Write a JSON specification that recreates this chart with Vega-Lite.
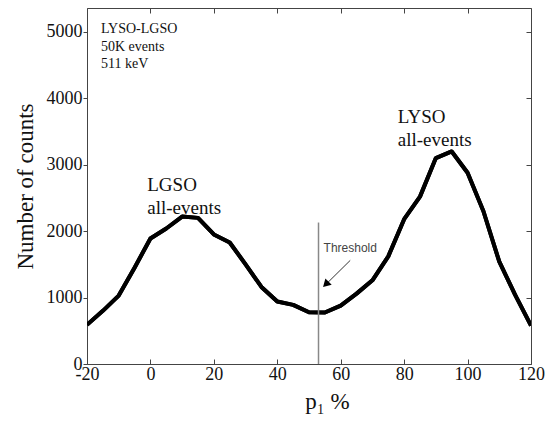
{
  "$schema": "https://vega.github.io/schema/vega-lite/v6.json",
  "width": 444,
  "height": 356,
  "autosize": "none",
  "padding": {"left": 87, "top": 8, "right": 18, "bottom": 57},
  "background": "white",
  "config": {
    "view": {"stroke": null},
    "axis": {
      "domainColor": "#444", "tickColor": "#444", "grid": false, "labelFlush": false,
      "labelFont": "Liberation Serif", "labelFontSize": 18, "labelColor": "#111",
      "titleFont": "Liberation Serif", "titleFontSize": 23, "titleFontWeight": "normal", "titleColor": "#111"
    }
  },
  "datasets": {
    "curve": [
      {"p": -20, "n": 590}, {"p": -15, "n": 800}, {"p": -10, "n": 1030}, {"p": -5, "n": 1450},
      {"p": 0, "n": 1890}, {"p": 5, "n": 2040}, {"p": 10, "n": 2220}, {"p": 15, "n": 2200},
      {"p": 20, "n": 1950}, {"p": 25, "n": 1830}, {"p": 30, "n": 1500}, {"p": 35, "n": 1160},
      {"p": 40, "n": 940}, {"p": 45, "n": 890}, {"p": 50, "n": 780}, {"p": 55, "n": 775},
      {"p": 60, "n": 880}, {"p": 65, "n": 1060}, {"p": 70, "n": 1260}, {"p": 75, "n": 1620},
      {"p": 80, "n": 2180}, {"p": 85, "n": 2520}, {"p": 90, "n": 3100}, {"p": 95, "n": 3200},
      {"p": 100, "n": 2880}, {"p": 105, "n": 2300}, {"p": 110, "n": 1540}, {"p": 115, "n": 1040},
      {"p": 120, "n": 580}
    ],
    "labels": [
      {"p": -15.6, "n": 5045, "t": "LYSO-LGSO", "s": 14},
      {"p": -15.6, "n": 4775, "t": "50K events", "s": 14},
      {"p": -15.6, "n": 4515, "t": "511 keV", "s": 14},
      {"p": -1, "n": 2700, "t": "LGSO", "s": 19},
      {"p": -1, "n": 2355, "t": "all-events", "s": 19},
      {"p": 78, "n": 3716, "t": "LYSO", "s": 19},
      {"p": 78, "n": 3370, "t": "all-events", "s": 19}
    ]
  },
  "layer": [
    {
      "data": {"name": "curve"},
      "mark": {"type": "line", "color": "black", "strokeWidth": 4, "strokeJoin": "round", "clip": true},
      "encoding": {
        "x": {"field": "p", "type": "quantitative", "scale": {"domain": [-20, 120], "nice": false, "zero": false},
              "axis": {"orient": "bottom", "values": [-20, 0, 20, 40, 60, 80, 100, 120], "labelExpr": "'' + datum.value", "tickSize": -5, "title": "p₁  %", "labelPadding": 6, "titlePadding": 7, "titleX": 240}},
        "y": {"field": "n", "type": "quantitative", "scale": {"domain": [0, 5360], "nice": false},
              "axis": {"orient": "left", "values": [0, 1000, 2000, 3000, 4000, 5000], "labelExpr": "'' + datum.value", "tickSize": 4, "title": "Number of counts", "labelPadding": 1, "titlePadding": 9}}
      }
    },
    {
      "data": {"name": "curve"},
      "mark": {"type": "line", "color": "black", "strokeWidth": 4, "strokeJoin": "round", "clip": true},
      "encoding": {
        "x": {"field": "p", "type": "quantitative",
              "axis": {"orient": "top", "values": [-20, 0, 20, 40, 60, 80, 100, 120], "labels": false, "tickSize": -5, "title": null}},
        "y": {"field": "n", "type": "quantitative",
              "axis": {"orient": "right", "values": [0, 1000, 2000, 3000, 4000, 5000], "labels": false, "tickSize": -5, "title": null}}
      }
    },
    {
      "data": {"values": [{"p": 53, "n": 0, "n2": 2130}]},
      "mark": {"type": "rule", "color": "#888", "strokeWidth": 1.5},
      "encoding": {
        "x": {"field": "p", "type": "quantitative", "axis": null},
        "y": {"field": "n", "type": "quantitative", "axis": null},
        "y2": {"field": "n2"}
      }
    },
    {
      "data": {"values": [{"p": 63, "n": 1560, "p2": 56, "n2": 1230}]},
      "mark": {"type": "rule", "color": "#333", "strokeWidth": 1},
      "encoding": {
        "x": {"field": "p", "type": "quantitative", "axis": null},
        "y": {"field": "n", "type": "quantitative", "axis": null},
        "x2": {"field": "p2"},
        "y2": {"field": "n2"}
      }
    },
    {
      "data": {"values": [{"p": 55.3, "n": 1200}]},
      "mark": {"type": "point", "shape": "triangle-up", "angle": 225, "filled": true, "color": "black", "size": 80, "opacity": 1},
      "encoding": {
        "x": {"field": "p", "type": "quantitative", "axis": null},
        "y": {"field": "n", "type": "quantitative", "axis": null}
      }
    },
    {
      "data": {"values": [{"p": 54.6, "n": 1740, "t": "Threshold"}]},
      "mark": {"type": "text", "align": "left", "baseline": "middle", "font": "Liberation Sans", "fontSize": 12, "color": "#444"},
      "encoding": {
        "x": {"field": "p", "type": "quantitative", "axis": null},
        "y": {"field": "n", "type": "quantitative", "axis": null},
        "text": {"field": "t"}
      }
    },
    {
      "data": {"name": "labels"},
      "mark": {"type": "text", "align": "left", "baseline": "middle", "font": "Liberation Serif", "color": "#111"},
      "encoding": {
        "x": {"field": "p", "type": "quantitative", "axis": null},
        "y": {"field": "n", "type": "quantitative", "axis": null},
        "text": {"field": "t"},
        "size": {"field": "s", "type": "quantitative", "scale": null}
      }
    }
  ],
  "resolve": {"axis": {"x": "independent", "y": "independent"}}
}
